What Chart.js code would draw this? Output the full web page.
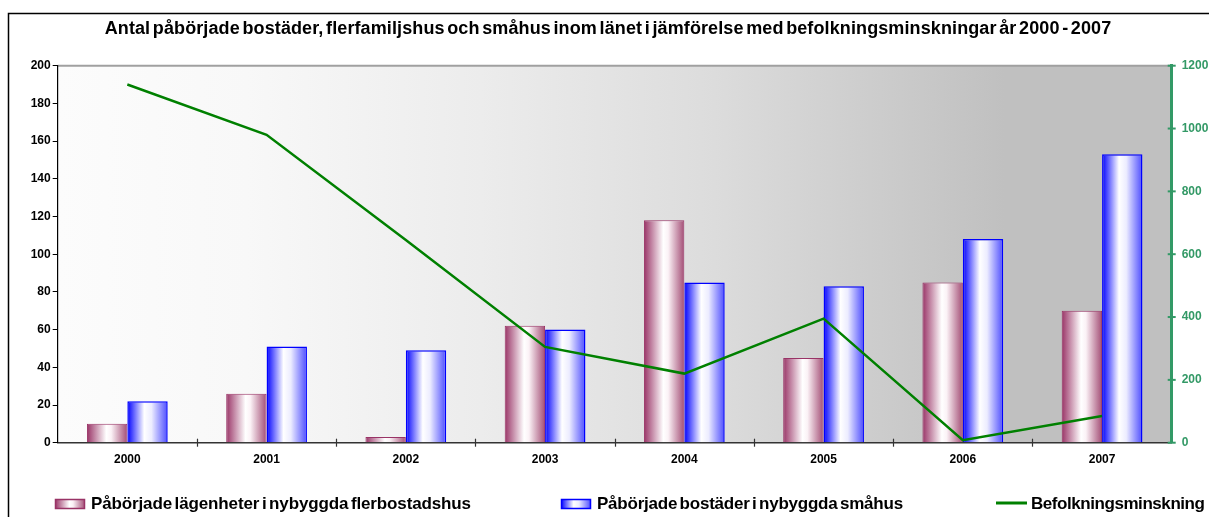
<!DOCTYPE html>
<html lang="sv">
<head>
<meta charset="utf-8">
<title>Påbörjade bostäder och befolkningsminskning 2000 - 2007</title>
<script src="https://cdn.jsdelivr.net/npm/chart.js@4/dist/chart.umd.min.js"></script>
<style>
  html, body { margin: 0; padding: 0; background: #ffffff; }
  #wrap { position: relative; width: 1209px; height: 517px; }
  canvas { display: block; }
</style>
</head>
<body>
<div id="wrap"><canvas id="chart" width="1209" height="517"></canvas></div>
<script>
// Årtal på x-axeln
const years = ['2000', '2001', '2002', '2003', '2004', '2005', '2006', '2007'];
// Påbörjade lägenheter i nybyggda flerbostadshus (vänster axel)
const flerbostadshus = [10, 26, 3, 62, 118, 45, 85, 70];
// Påbörjade bostäder i nybyggda småhus (vänster axel)
const smahus = [22, 51, 49, 60, 85, 83, 108, 153];
// Befolkningsminskning (höger axel)
const befolkningsminskning = [1140, 980, 645, 305, 220, 395, 8, 85];
// Axelindelning
const leftTicks = { min: 0, max: 200, step: 20 };
const rightTicks = { min: 0, max: 1200, step: 200 };

const chartTitle = 'Antal påbörjade bostäder, flerfamiljshus och småhus inom länet i jämförelse med befolkningsminskningar år 2000 - 2007';
const legendLabels = [
  'Påbörjade lägenheter i nybyggda flerbostadshus',
  'Påbörjade bostäder i nybyggda småhus',
  'Befolkningsminskning'
];

const FONT = '"Liberation Sans", Arial, sans-serif';
const MAROON = '#993366';
const BLUE = '#0000ff';
const GREEN_LINE = '#008000';
const GREEN_AXIS = '#339966';
const CAT_PCT = 0.58;
const BAR_PCT = 1.0;

const maroonStops = [[0, '#993366'], [0.48, '#ffffff'], [0.6, '#fbf2f6'], [1, '#a34d75']];
const blueStops = [[0, '#0000ff'], [0.42, '#ffffff'], [0.6, '#ececff'], [1, '#4d4dff']];

// Horisontell gradient per stapel, beräknad från kategoriaxelns position
function barFill(stops, side) {
  return (ctx) => {
    const chart = ctx.chart;
    const xs = chart.scales && chart.scales.x;
    if (!xs || ctx.dataIndex === undefined || !isFinite(xs.width) || xs.width <= 0) return stops[0][1];
    const cat = xs.width / years.length;
    const w = cat * CAT_PCT * BAR_PCT / 2;
    const c = xs.getPixelForValue(ctx.dataIndex);
    const left = side < 0 ? c - w : c;
    const g = chart.ctx.createLinearGradient(left, 0, left + w, 0);
    stops.forEach(([o, col]) => g.addColorStop(o, col));
    return g;
  };
}

function fillStops(g, stops) { stops.forEach(([o, col]) => g.addColorStop(o, col)); return g; }

// Tät text: smala mellanslag, teckenavstånd anpassat till given bredd
function drawFitted(ctx, text, x, y, font, targetWidth, align, wordGap) {
  ctx.font = font;
  ctx.letterSpacing = '0px';
  ctx.wordSpacing = wordGap + 'px';
  const w0 = ctx.measureText(text).width;
  const sp = (targetWidth - w0) / Math.max(1, text.length - 1);
  ctx.letterSpacing = sp.toFixed(2) + 'px';
  ctx.textAlign = align;
  ctx.fillText(text, x, y);
  ctx.letterSpacing = '0px';
  ctx.wordSpacing = '0px';
}

const decorPlugin = {
  id: 'decor',
  beforeDraw(chart) {
    const { ctx, chartArea: a } = chart;
    ctx.save();
    ctx.fillStyle = '#ffffff';
    ctx.fillRect(0, 0, chart.width, chart.height);
    // Ram runt diagrammet
    ctx.strokeStyle = '#000000';
    ctx.lineWidth = 1.5;
    ctx.beginPath();
    ctx.moveTo(8.5, chart.height + 2);
    ctx.lineTo(8.5, 13.5);
    ctx.lineTo(chart.width + 2, 13.5);
    ctx.stroke();
    // Bakgrund i ritytan
    const g = ctx.createLinearGradient(a.left, 0, a.right, 0);
    fillStops(g, [[0, '#fcfcfc'], [0.17, '#f8f8f8'], [0.38, '#ececec'], [0.59, '#dcdcdc'], [0.85, '#c0c0c0'], [1, '#c0c0c0']]);
    ctx.fillStyle = g;
    ctx.fillRect(a.left, a.top, a.right - a.left, a.bottom - a.top);
    ctx.strokeStyle = '#a0a0a0';
    ctx.lineWidth = 2;
    ctx.beginPath();
    ctx.moveTo(a.left, a.top);
    ctx.lineTo(a.right, a.top);
    ctx.stroke();
    ctx.restore();
  },
  afterDraw(chart) {
    const { ctx, chartArea: a, scales } = chart;
    ctx.save();
    // Skiljestreck mellan kategorierna
    ctx.strokeStyle = '#333333';
    ctx.lineWidth = 1.2;
    for (let i = 0; i < years.length - 1; i++) {
      const x = (scales.x.getPixelForValue(i) + scales.x.getPixelForValue(i + 1)) / 2;
      ctx.beginPath();
      ctx.moveTo(Math.round(x) + 0.5, a.bottom - 4);
      ctx.lineTo(Math.round(x) + 0.5, a.bottom + 4);
      ctx.stroke();
    }
    // Högeraxelns streck
    ctx.strokeStyle = GREEN_AXIS;
    ctx.lineWidth = 2;
    for (let v = rightTicks.min; v <= rightTicks.max; v += rightTicks.step) {
      const y = scales.y1.getPixelForValue(v);
      ctx.beginPath();
      ctx.moveTo(a.right - 4, y);
      ctx.lineTo(a.right + 4, y);
      ctx.stroke();
    }
    // Rubrik
    ctx.fillStyle = '#000000';
    ctx.textBaseline = 'middle';
    drawFitted(ctx, chartTitle, 608, 29, 'bold 18px ' + FONT, 1006, 'center', -2.5);

    // Teckenförklaring
    const ly = 504;
    const boxes = [
      { x: 55, stops: maroonStops, border: MAROON },
      { x: 561, stops: blueStops, border: BLUE }
    ];
    boxes.forEach((b) => {
      const gg = ctx.createLinearGradient(b.x, 0, b.x + 30, 0);
      fillStops(gg, b.stops);
      ctx.fillStyle = gg;
      ctx.fillRect(b.x, ly - 5, 30, 10);
      ctx.strokeStyle = b.border;
      ctx.lineWidth = 1.5;
      ctx.strokeRect(b.x + 0.5, ly - 4.5, 29, 9);
    });
    ctx.strokeStyle = GREEN_LINE;
    ctx.lineWidth = 3;
    ctx.beginPath();
    ctx.moveTo(996, ly - 1);
    ctx.lineTo(1027, ly - 1);
    ctx.stroke();
    ctx.fillStyle = '#000000';
    const lf = 'bold 17px ' + FONT;
    drawFitted(ctx, legendLabels[0], 91, ly, lf, 380, 'left', -2);
    drawFitted(ctx, legendLabels[1], 597, ly, lf, 306, 'left', -2);
    drawFitted(ctx, legendLabels[2], 1031, ly, lf, 174, 'left', -2);
    ctx.restore();
  }
};

const tickFont = { family: FONT, size: 12, weight: 'bold' };

new Chart(document.getElementById('chart'), {
  type: 'bar',
  data: {
    labels: years,
    datasets: [
      {
        type: 'line',
        label: legendLabels[2],
        data: befolkningsminskning,
        yAxisID: 'y1',
        borderColor: GREEN_LINE,
        borderWidth: 2.5,
        pointRadius: 0,
        tension: 0,
        fill: false,
        order: 0
      },
      {
        label: legendLabels[0],
        data: flerbostadshus,
        yAxisID: 'y',
        backgroundColor: barFill(maroonStops, -1),
        borderColor: MAROON,
        borderWidth: 1,
        categoryPercentage: CAT_PCT,
        barPercentage: BAR_PCT,
        order: 1
      },
      {
        label: legendLabels[1],
        data: smahus,
        yAxisID: 'y',
        backgroundColor: barFill(blueStops, 1),
        borderColor: BLUE,
        borderWidth: 1.5,
        categoryPercentage: CAT_PCT,
        barPercentage: BAR_PCT,
        order: 1
      }
    ]
  },
  options: {
    responsive: false,
    animation: false,
    events: [],
    layout: { padding: { left: 0, right: 0, top: 65.7, bottom: 0 } },
    plugins: {
      legend: { display: false },
      title: { display: false },
      tooltip: { enabled: false }
    },
    scales: {
      x: {
        offset: true,
        grid: { display: false, drawTicks: false },
        border: { display: true, color: '#333333', width: 1.5 },
        ticks: { color: '#000000', font: tickFont, padding: 10, maxRotation: 0 },
        afterFit: (s) => { s.height = 74.3; }
      },
      y: {
        position: 'left',
        min: leftTicks.min,
        max: leftTicks.max,
        ticks: { stepSize: leftTicks.step, color: '#000000', font: tickFont, padding: 2 },
        grid: { drawOnChartArea: false, drawTicks: true, tickLength: 5, color: '#000000', lineWidth: 1 },
        border: { display: true, color: '#000000', width: 1.2 },
        afterFit: (s) => { s.width = 57.7; }
      },
      y1: {
        position: 'right',
        min: rightTicks.min,
        max: rightTicks.max,
        ticks: { stepSize: rightTicks.step, color: GREEN_AXIS, font: tickFont, padding: 10, callback: (v) => String(v) },
        grid: { drawOnChartArea: false, drawTicks: false },
        border: { display: true, color: GREEN_AXIS, width: 3 },
        afterFit: (s) => { s.width = 37.3; }
      }
    }
  },
  plugins: [decorPlugin]
});
</script>
</body>
</html>
